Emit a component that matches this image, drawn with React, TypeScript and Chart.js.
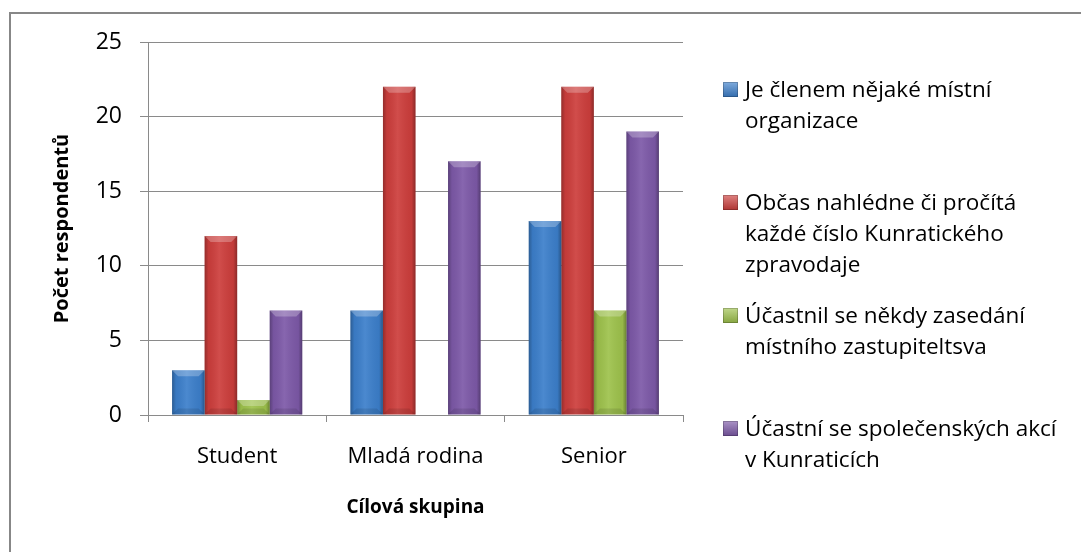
import React, { useEffect, useRef } from 'react';
import { Chart, registerables } from 'chart.js';

Chart.register(...registerables);

const categories = ['Student', 'Mladá rodina', 'Senior'];
const seriesNames: string[][] = [
  ['Je členem nějaké místní', 'organizace'],
  ['Občas nahlédne či pročítá', 'každé číslo Kunratického', 'zpravodaje'],
  ['Účastnil se někdy zasedání', 'místního zastupiteltsva'],
  ['Účastní se společenských akcí', 'v Kunraticích'],
];
const memberValues = [3, 7, 13];
const readerValues = [12, 22, 22];
const meetingValues = [1, 0, 7];
const eventValues = [7, 17, 19];
const seriesValues = [memberValues, readerValues, meetingValues, eventValues];
const seriesColors = ['#3C7FCB', '#CD3E3C', '#9EC24C', '#7D59A8'];
const yTicks = [0, 5, 10, 15, 20, 25];
const yTitle = 'Počet respondentů';
const xTitle = 'Cílová skupina';

const FONT = "'Open Sans', 'Liberation Sans', sans-serif";
const GRID = '#8a8a8a';

const shadePlugin = {
  id: 'barShade',
  afterDatasetsDraw(chart: any) {
    const ctx = chart.ctx;
    chart.data.datasets.forEach((_ds: any, i: number) => {
      const meta = chart.getDatasetMeta(i);
      meta.data.forEach((bar: any) => {
        const { x, y, base, width } = bar.getProps(['x', 'y', 'base', 'width'], true);
        const left = x - width / 2;
        const h = base - y;
        if (h <= 0.5) return;
        ctx.save();
        const g = ctx.createLinearGradient(left, 0, left + width, 0);
        g.addColorStop(0, 'rgba(0,0,0,0.28)');
        g.addColorStop(0.12, 'rgba(0,0,0,0.05)');
        g.addColorStop(0.45, 'rgba(255,255,255,0.08)');
        g.addColorStop(0.88, 'rgba(0,0,0,0.05)');
        g.addColorStop(1, 'rgba(0,0,0,0.32)');
        ctx.fillStyle = g;
        ctx.fillRect(left, y, width, h);
        const bv = Math.min(6, h / 2);
        ctx.beginPath();
        ctx.moveTo(left, y);
        ctx.lineTo(left + width, y);
        ctx.lineTo(left + width - bv, y + bv);
        ctx.lineTo(left + bv, y + bv);
        ctx.closePath();
        ctx.fillStyle = 'rgba(255,255,255,0.25)';
        ctx.fill();
        ctx.beginPath();
        ctx.moveTo(left, base);
        ctx.lineTo(left + width, base);
        ctx.lineTo(left + width - bv, base - bv);
        ctx.lineTo(left + bv, base - bv);
        ctx.closePath();
        ctx.fillStyle = 'rgba(0,0,0,0.10)';
        ctx.fill();
        ctx.restore();
      });
    });
  },
};

export default function App() {
  const canvasRef = useRef<HTMLCanvasElement>(null);

  useEffect(() => {
    const canvas = canvasRef.current;
    if (!canvas) return;
    const chart = new Chart(canvas, {
      type: 'bar',
      data: {
        labels: categories,
        datasets: seriesValues.map((vals, i) => ({
          label: seriesNames[i].join(' '),
          data: vals,
          backgroundColor: seriesColors[i],
          borderWidth: 0,
          categoryPercentage: 0.73,
          barPercentage: 1,
        })),
      },
      options: {
        responsive: false,
        animation: false,
        layout: { padding: { top: 42, left: 0, right: 398, bottom: 0 } },
        plugins: {
          legend: { display: false },
          tooltip: { enabled: false },
        },
        scales: {
          x: {
            offset: true,
            grid: { display: true, drawOnChartArea: false, drawTicks: true, tickLength: 7, color: GRID, offset: true },
            border: { display: true, color: GRID, width: 1 },
            ticks: { color: '#000', font: { family: FONT, size: 22 }, padding: 22 },
            title: { display: true, text: xTitle, color: '#000', font: { family: FONT, size: 19, weight: 'bold' }, padding: { top: 0, bottom: 33 } },
            afterFit(scale: any) { scale.height = 137; },
          },
          y: {
            min: 0,
            max: 25,
            afterBuildTicks(scale: any) { scale.ticks = yTicks.map((v) => ({ value: v })); },
            grid: { color: GRID, drawTicks: true, tickLength: 8 },
            border: { display: true, color: GRID, width: 1 },
            ticks: { color: '#000', font: { family: FONT, size: 23 }, padding: 18 },
            title: { display: true, text: yTitle, color: '#000', font: { family: FONT, size: 20, weight: 'bold' }, padding: { top: 50, bottom: 0 } },
            afterFit(scale: any) { scale.width = 148; },
          },
        },
      },
      plugins: [shadePlugin],
    });
    return () => chart.destroy();
  }, []);

  return (
    <div style={{ position: 'fixed', left: 0, top: 0, width: 1081, height: 552, overflow: 'hidden', background: '#fff' }}>
      <div style={{ position: 'absolute', left: 9, top: 12, width: 1200, height: 700, border: '2px solid #878787', boxSizing: 'border-box' }} />
      <canvas ref={canvasRef} width={1081} height={552} style={{ position: 'absolute', left: 0, top: 0 }} />
      <div style={{ position: 'absolute', left: 723, top: 73, fontFamily: FONT, fontSize: 22.5, lineHeight: '31px', color: '#000' }}>
        {seriesNames.map((lines, i) => (
          <div key={i} style={{ position: 'relative', height: 113 }}>
            <div style={{
              position: 'absolute', left: 0, top: 9, width: 15, height: 15,
              background: `linear-gradient(to bottom, rgba(255,255,255,0.35), rgba(0,0,0,0.15)), ${seriesColors[i]}`,
              boxShadow: 'inset 0 0 0 1px rgba(0,0,0,0.2)',
            }} />
            <div style={{ position: 'absolute', left: 22, top: 0, whiteSpace: 'nowrap' }}>
              {lines.map((l, j) => (<div key={j}>{l}</div>))}
            </div>
          </div>
        ))}
      </div>
    </div>
  );
}
